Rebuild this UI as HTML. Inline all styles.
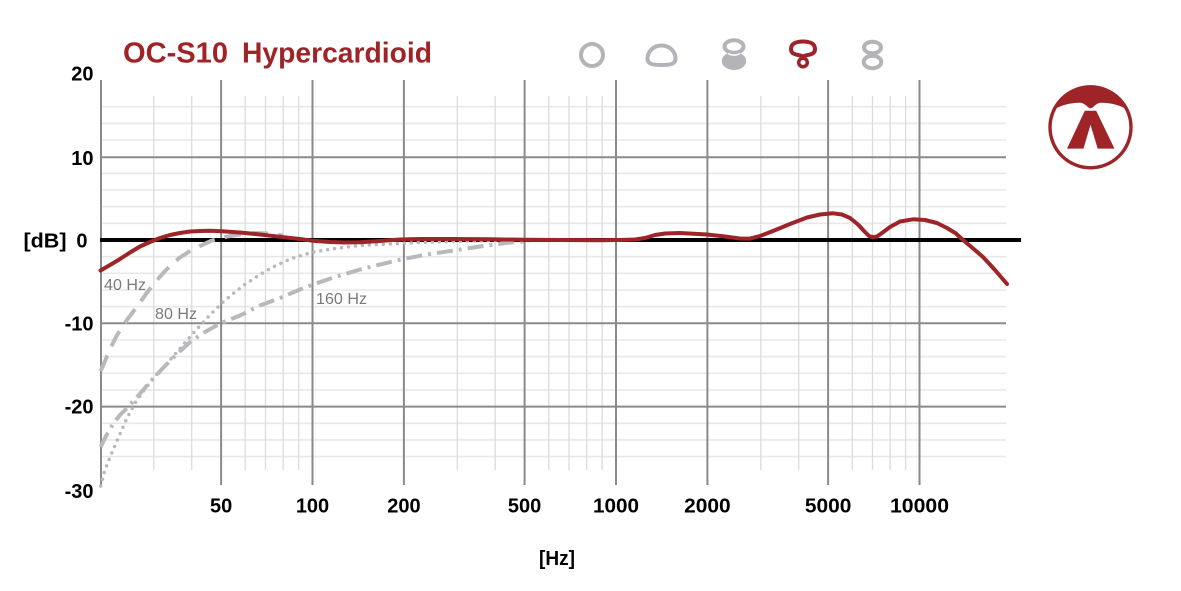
<!DOCTYPE html>
<html>
<head>
<meta charset="utf-8">
<style>
html,body{margin:0;padding:0;background:#fff;}
svg{display:block;}
text{font-family:"Liberation Sans",Arial,sans-serif;}
.tk{font-size:20px;font-weight:bold;fill:#000;}
.lb{font-size:16px;fill:#7a7a7a;}
</style>
</head>
<body>
<svg width="1181" height="591" viewBox="0 0 1181 591" xmlns="http://www.w3.org/2000/svg">
<rect width="1181" height="591" fill="#fff"/>

<!-- minor horizontal grid -->
<g stroke="#e8e8e8" stroke-width="1.6">
<line x1="101" x2="1006" y1="106.7" y2="106.7"/>
<line x1="101" x2="1006" y1="123.4" y2="123.4"/>
<line x1="101" x2="1006" y1="140.0" y2="140.0"/>
<line x1="101" x2="1006" y1="173.4" y2="173.4"/>
<line x1="101" x2="1006" y1="190.0" y2="190.0"/>
<line x1="101" x2="1006" y1="206.7" y2="206.7"/>
<line x1="101" x2="1006" y1="223.3" y2="223.3"/>
<line x1="101" x2="1006" y1="256.7" y2="256.7"/>
<line x1="101" x2="1006" y1="273.3" y2="273.3"/>
<line x1="101" x2="1006" y1="290.0" y2="290.0"/>
<line x1="101" x2="1006" y1="306.6" y2="306.6"/>
<line x1="101" x2="1006" y1="340.0" y2="340.0"/>
<line x1="101" x2="1006" y1="356.6" y2="356.6"/>
<line x1="101" x2="1006" y1="373.3" y2="373.3"/>
<line x1="101" x2="1006" y1="389.9" y2="389.9"/>
<line x1="101" x2="1006" y1="423.3" y2="423.3"/>
<line x1="101" x2="1006" y1="439.9" y2="439.9"/>
<line x1="101" x2="1006" y1="456.6" y2="456.6"/>
</g>

<!-- minor vertical grid -->
<g stroke="#dcdcdc" stroke-width="1.3">
<line y1="96" y2="470" x1="153.8" x2="153.8"/>
<line y1="96" y2="470" x1="191.7" x2="191.7"/>
<line y1="96" y2="470" x1="245.2" x2="245.2"/>
<line y1="96" y2="470" x1="265.5" x2="265.5"/>
<line y1="96" y2="470" x1="283.1" x2="283.1"/>
<line y1="96" y2="470" x1="298.6" x2="298.6"/>
<line y1="96" y2="470" x1="457.3" x2="457.3"/>
<line y1="96" y2="470" x1="495.2" x2="495.2"/>
<line y1="96" y2="470" x1="548.7" x2="548.7"/>
<line y1="96" y2="470" x1="569.0" x2="569.0"/>
<line y1="96" y2="470" x1="586.6" x2="586.6"/>
<line y1="96" y2="470" x1="602.1" x2="602.1"/>
<line y1="96" y2="470" x1="760.8" x2="760.8"/>
<line y1="96" y2="470" x1="798.7" x2="798.7"/>
<line y1="96" y2="470" x1="852.2" x2="852.2"/>
<line y1="96" y2="470" x1="872.5" x2="872.5"/>
<line y1="96" y2="470" x1="890.1" x2="890.1"/>
<line y1="96" y2="470" x1="905.6" x2="905.6"/>
</g>

<!-- major grid -->
<g stroke="#8a8a8a" stroke-width="2">
<line x1="101" x2="1006" y1="157.2" y2="157.2"/>
<line x1="101" x2="1006" y1="323.3" y2="323.3"/>
<line x1="101" x2="1006" y1="406.6" y2="406.6"/>
<line y1="80" y2="485" x1="101" x2="101"/>
<line y1="80" y2="485" x1="221.1" x2="221.1"/>
<line y1="80" y2="485" x1="312.5" x2="312.5"/>
<line y1="80" y2="485" x1="403.9" x2="403.9"/>
<line y1="80" y2="485" x1="524.6" x2="524.6"/>
<line y1="80" y2="485" x1="616" x2="616"/>
<line y1="80" y2="485" x1="707.4" x2="707.4"/>
<line y1="80" y2="485" x1="828.1" x2="828.1"/>
<line y1="80" y2="485" x1="919.5" x2="919.5"/>
</g>

<!-- zero line -->
<line x1="100" x2="1021" y1="240" y2="240" stroke="#000" stroke-width="4"/>

<!-- gray high-pass curves -->
<g fill="none" stroke="#b9b9bd" stroke-linejoin="round">
<polyline stroke-width="4" stroke-dasharray="17 10" points="100.7,371 105,361 110,349 116,337 122,327 128,318.5 134,310.5 140,302.5 146,294 152,286 158,279 165,271 172,264 180,257.5 190,251 200,246 212,240.5 226,236.8 240,234.3 255,233 270,233.5 283,235.5"/>
<polyline stroke-width="3.5" stroke-linecap="round" stroke-dasharray="0 7" points="100.7,486 104,473 108,462 113,450 120,434 127,418 135,403 145,389 157,374 170,360 183,345 196,330 210,315 223,302 235,292 247,283 260,274.5 273,267 290,259 313,252 335,248.5 360,245.5 390,244 420,242.5 460,241.3 500,240.6"/>
<polyline stroke-width="4" stroke-dasharray="16 6 3 6" points="100.7,447 106,436 113,424 120,415 128,407 138,396 150,382 163,368 176,355 190,342 205,332 220,323.5 240,315.5 260,305.5 280,298 300,289.5 313,284.5 335,277 360,269.5 380,264.5 403,259 430,254 457,250 490,245 510,242.5 530,241"/>
</g>

<!-- gray labels -->
<text class="lb" x="104" y="290" textLength="42" lengthAdjust="spacingAndGlyphs">40 Hz</text>
<text class="lb" x="155" y="319" textLength="42" lengthAdjust="spacingAndGlyphs">80 Hz</text>
<text class="lb" x="316" y="304" textLength="51" lengthAdjust="spacingAndGlyphs">160 Hz</text>

<!-- red response -->
<polyline fill="none" stroke="#9d2428" stroke-width="4" stroke-linejoin="round" stroke-linecap="round" points="100.5,270.5 110,265 120,259 130,252.5 140,246.5 150,242 160,238 170,235 180,233 190,231.5 200,231 210,230.8 222,231.2 240,232.5 260,234.5 280,236.8 300,239 313,240.8 330,242 345,242.5 360,242.3 380,241 400,239.5 420,239 450,239 490,239.3 525,239.8 560,240 600,240.3 620,240 635,239.5 645,238 655,235 665,233.5 680,233 707,234.5 725,236.5 740,238.5 750,238.6 760,236 773,231 790,224 807,217.5 820,214.5 833,213.3 842,214.5 850,218 858,224.5 864,231 869,236 873,237.2 877,236.5 882,233 890,227 900,221.5 913,219.3 925,220 937,223 947,228 956,233.5 963,240 972,247.5 983,257 995,270 1007,284"/>

<!-- y labels -->
<text class="tk" x="93.5" y="80.7" text-anchor="end">20</text>
<text class="tk" x="93.5" y="165" text-anchor="end">10</text>
<text class="tk" x="87.5" y="247.3" text-anchor="end">0</text>
<text class="tk" x="23.5" y="247.3" textLength="43" lengthAdjust="spacingAndGlyphs">[dB]</text>
<text class="tk" x="93.5" y="330.5" text-anchor="end">-10</text>
<text class="tk" x="93.5" y="413.5" text-anchor="end">-20</text>
<text class="tk" x="93.5" y="498" text-anchor="end">-30</text>

<!-- x labels -->
<text class="tk" x="221.1" y="512.5" text-anchor="middle">50</text>
<text class="tk" x="312.5" y="512.5" text-anchor="middle">100</text>
<text class="tk" x="403.9" y="512.5" text-anchor="middle">200</text>
<text class="tk" x="524.6" y="512.5" text-anchor="middle">500</text>
<text class="tk" x="616" y="512.5" text-anchor="middle" textLength="46" lengthAdjust="spacingAndGlyphs">1000</text>
<text class="tk" x="707.4" y="512.5" text-anchor="middle" textLength="46.5" lengthAdjust="spacingAndGlyphs">2000</text>
<text class="tk" x="828.1" y="512.5" text-anchor="middle" textLength="46.5" lengthAdjust="spacingAndGlyphs">5000</text>
<text class="tk" x="919.5" y="512.5" text-anchor="middle" textLength="59" lengthAdjust="spacingAndGlyphs">10000</text>
<text class="tk" x="557" y="565" text-anchor="middle" textLength="36" lengthAdjust="spacingAndGlyphs">[Hz]</text>

<!-- title -->
<text x="123" y="62.7" font-size="29" font-weight="bold" fill="#9f2427" textLength="105" lengthAdjust="spacingAndGlyphs">OC-S10</text>
<text x="242" y="62.7" font-size="29" font-weight="bold" fill="#9f2427" textLength="190" lengthAdjust="spacingAndGlyphs">Hypercardioid</text>

<!-- pattern icons -->
<g fill="none" stroke="#b4b4b8" stroke-width="4">
<circle cx="592" cy="55" r="11"/>
<path d="M661.5 45.5 C671 45.5 675.5 53 675.5 58.5 C675.5 64 671 65 661.5 65 C652 65 647.5 64 647.5 58.5 C647.5 53 652 45.5 661.5 45.5 Z"/>
<ellipse cx="734" cy="46.5" rx="9.5" ry="6.3"/>
<ellipse cx="872.5" cy="47.5" rx="8.5" ry="5.8"/>
<ellipse cx="872.5" cy="62" rx="8.8" ry="6.2"/>
</g>
<ellipse cx="734" cy="61" rx="12.2" ry="9" fill="#b4b4b8"/>
<path d="M728 53.5 Q734 57 740 53.5" fill="none" stroke="#fff" stroke-width="1.5"/>
<g fill="none" stroke="#9d2428" stroke-width="4" stroke-linejoin="round">
<path d="M803 56.5 C798 54 791 55.5 791 49 C791 43.5 796.5 41.5 803 41.5 C809.5 41.5 815 43.5 815 49 C815 55.5 808 54 803 56.5 Z"/>
<circle cx="803" cy="62.5" r="4.3" stroke-width="3.5"/>
</g>

<!-- logo -->
<g transform="translate(1090.5,127.3)">
<circle r="40.5" fill="none" stroke="#9f2427" stroke-width="3.4"/>
<path d="M-38 -17 A41.5 41.5 0 0 1 38 -17 C30 -22 20 -24.5 11 -24.5 C5 -24.5 3 -19 0 -19 C-3 -19 -5 -24.5 -11 -24.5 C-20 -24.5 -30 -22 -38 -17 Z" fill="#9f2427"/>
<path d="M-5.7 -16.5 L5.7 -16.5 L24 21.3 L7.2 21.3 L0 -2.5 L-7 21.3 L-23.5 21.3 Z" fill="#9f2427"/>
</g>
</svg>
</body>
</html>
